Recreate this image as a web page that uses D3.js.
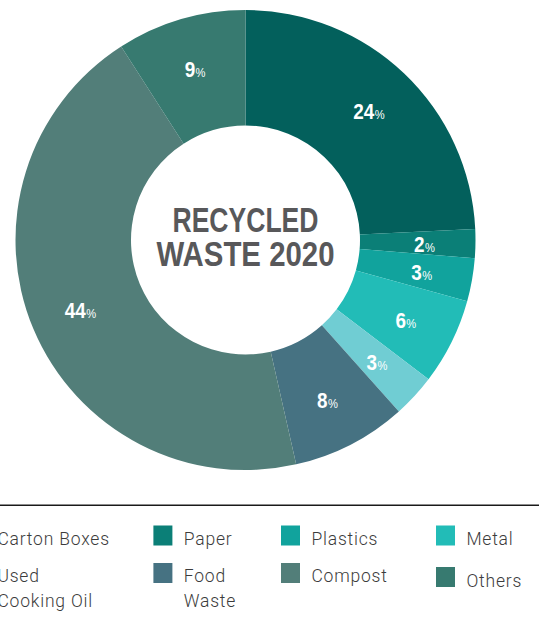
<!DOCTYPE html>
<html>
<head>
<meta charset="utf-8">
<script src="https://cdn.jsdelivr.net/npm/d3@7"></script>
<style>
  html, body { margin: 0; padding: 0; background: #fff; overflow: hidden; }
  svg { display: block; }
</style>
</head>
<body>
<svg id="chart" width="539" height="625"></svg>
<script>
// ---- data ----
const categories = ["Carton Boxes", "Paper", "Plastics", "Metal", "Used Cooking Oil", "Food Waste", "Compost", "Others"];
const values = [24, 2, 3, 6, 3, 8, 44, 9];
const colors = ["#03605c", "#0b7f77", "#11a39d", "#22bcb7", "#70cdd3", "#467282", "#527e79", "#377a70"];
const legendLines = [["Carton Boxes"], ["Paper"], ["Plastics"], ["Metal"], ["Used", "Cooking Oil"], ["Food", "Waste"], ["Compost"], ["Others"]];
const titleLines = ["RECYCLED", "WASTE 2020"];

// ---- layout ----
const W = 539, H = 625;
const cx = 245.5, cy = 240, rOuter = 230, rInner = 114.5, rLabel = 179;
const svg = d3.select("#chart");
const boldFont = "'Liberation Sans', Arial, sans-serif";

const data = categories.map((c, i) => ({ name: c, value: values[i], color: colors[i], lines: legendLines[i] }));
const pie = d3.pie().value(d => d.value).sort(null);
const arcs = pie(data);
const arc = d3.arc().innerRadius(rInner).outerRadius(rOuter);
const labelArc = d3.arc().innerRadius(rLabel).outerRadius(rLabel);

const g = svg.append("g").attr("transform", `translate(${cx},${cy})`);
g.selectAll("path.slice").data(arcs).join("path")
  .attr("class", "slice")
  .attr("d", arc)
  .attr("fill", d => d.data.color);

const lbl = g.selectAll("text.lbl").data(arcs).join("text")
  .attr("class", "lbl")
  .attr("transform", d => { const [x, y] = labelArc.centroid(d); return `translate(${x},${y + 9}) scale(0.86,1)`; })
  .attr("text-anchor", "middle")
  .attr("fill", "#fff")
  .attr("font-family", boldFont);
lbl.append("tspan").attr("font-size", 22).attr("font-weight", "bold").text(d => d.data.value);
lbl.append("tspan").attr("font-size", 13).attr("font-weight", "normal").attr("dx", 0.5).text("%");

// title
const titleBaselines = [232, 266];
const titleWidths = [146, 178];
g.selectAll("text.title").data(titleLines).join("text")
  .attr("class", "title")
  .attr("x", 0)
  .attr("y", (d, i) => titleBaselines[i] - cy)
  .attr("text-anchor", "middle")
  .attr("font-family", boldFont)
  .attr("font-weight", "bold")
  .attr("font-size", 34.5)
  .attr("fill", "#58585a")
  .attr("textLength", (d, i) => titleWidths[i])
  .attr("lengthAdjust", "spacingAndGlyphs")
  .text(d => d);

// legend rule
svg.append("line")
  .attr("x1", 0).attr("x2", W)
  .attr("y1", 505.3).attr("y2", 505.3)
  .attr("stroke", "#1a1a1a").attr("stroke-width", 1.5);

// legend
const colX = [-33, 153.4, 281, 436];
const rowSwatchY = [525.5, 563];
const rowBaseline = [545, 582];
const legendFont = "Roboto, 'Liberation Sans', sans-serif";
const lg = svg.selectAll("g.leg").data(data).join("g")
  .attr("class", "leg")
  .attr("transform", (d, i) => `translate(${colX[i % 4]},0)`);
lg.append("rect")
  .attr("x", 0)
  .attr("y", (d, i) => rowSwatchY[Math.floor(i / 4)] + (d.name === "Others" ? 4 : 0))
  .attr("width", 19).attr("height", 20)
  .attr("fill", d => d.color);
lg.each(function(d, i) {
  const row = Math.floor(i / 4);
  const t = d3.select(this).append("text")
    .attr("font-family", legendFont)
    .attr("font-size", 17.5)
    .attr("font-weight", 300)
    .attr("letter-spacing", 0.8)
    .attr("fill", "#3c3c3c")
    .attr("y", rowBaseline[row] + (d.name === "Others" ? 5 : 0));
  d.lines.forEach((ln, k) => {
    t.append("tspan").attr("x", 30.4).attr("dy", k === 0 ? 0 : 24.5).text(ln);
  });
});
</script>
</body>
</html>
